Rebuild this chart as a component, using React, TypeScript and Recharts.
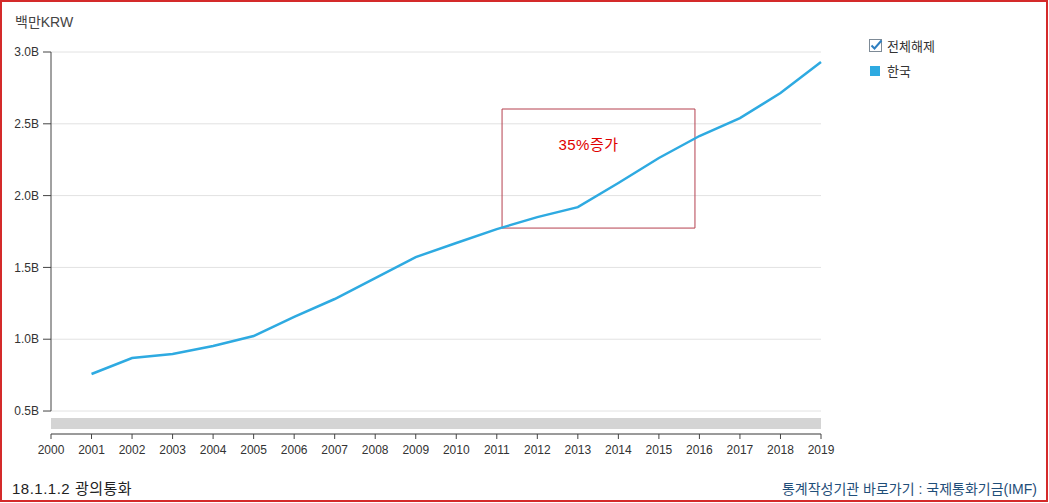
import React from 'react';
import { LineChart, Line, XAxis, YAxis, CartesianGrid, ReferenceArea, ReferenceLine } from 'recharts';

const years = [2001, 2002, 2003, 2004, 2005, 2006, 2007, 2008, 2009, 2010, 2011, 2012, 2013, 2014, 2015, 2016, 2017, 2018, 2019];
const korea = [0.758, 0.869, 0.897, 0.953, 1.022, 1.155, 1.28, 1.426, 1.572, 1.67, 1.767, 1.85, 1.92, 2.088, 2.262, 2.415, 2.54, 2.714, 2.93];
const xTicks = [2000, 2001, 2002, 2003, 2004, 2005, 2006, 2007, 2008, 2009, 2010, 2011, 2012, 2013, 2014, 2015, 2016, 2017, 2018, 2019];
const yTicks = [0.5, 1.0, 1.5, 2.0, 2.5, 3.0];
const seriesName = '한국';
const unitLabel = '백만KRW';
const annotationText = '35%증가';
const titleText = '18.1.1.2 광의통화';
const sourceText = '통계작성기관 바로가기 : 국제통화기금(IMF)';
const toggleText = '전체해제';

const data = years.map((y, i) => ({ year: y, value: korea[i] }));

const FONT = '"Liberation Sans", Arial, "Noto Sans CJK KR", sans-serif';
const LINE_COLOR = '#2eaae1';

const LegendBox = () => (
  <div style={{ position: 'absolute', left: 869, top: 38, fontFamily: FONT, fontSize: 13, color: '#333', lineHeight: '13px' }}>
    <div style={{ display: 'flex', alignItems: 'center', height: 16 }}>
      <svg width={14} height={14} style={{ marginRight: 4 }}>
        <rect x={0.5} y={0.5} width={12} height={12} fill="#fff" stroke="#7d8a96" />
        <path d="M2.5 6.5 L5.5 9.5 L12.5 1.5" fill="none" stroke="#2f7fc0" strokeWidth={2} />
      </svg>
      <span>{toggleText}</span>
    </div>
    <div style={{ display: 'flex', alignItems: 'center', height: 16, marginTop: 9 }}>
      <svg width={14} height={14} style={{ marginRight: 4 }}>
        <rect x={1} y={2} width={10} height={10} fill={LINE_COLOR} />
      </svg>
      <span>{seriesName}</span>
    </div>
  </div>
);

export default function App() {
  return (
    <div style={{ position: 'absolute', left: 0, top: 0, width: 1049, height: 503, background: '#fff', fontFamily: FONT }}>
      <div style={{ position: 'absolute', left: 0, top: 0, width: 1048, height: 502, boxSizing: 'border-box', border: '2px solid #d42a2a', pointerEvents: 'none', zIndex: 2 }} />
      <div style={{ position: 'absolute', left: 15, top: 11, fontSize: 14, color: '#444' }}>{unitLabel}</div>
      <LineChart width={1049} height={503} data={data} margin={{ top: 52, right: 228, bottom: 39, left: 0 }}>
        <CartesianGrid horizontal vertical={false} stroke="#e2e2e2" />
        <XAxis
          dataKey="year"
          type="number"
          domain={[2000, 2019]}
          ticks={xTicks}
          interval={0}
          height={30}
          axisLine={{ stroke: '#444' }}
          tickLine={{ stroke: '#444' }}
          tickSize={5}
          tickMargin={6}
          tick={{ fill: '#333', fontSize: 12, fontFamily: FONT }}
        />
        <YAxis
          type="number"
          domain={[0.34, 3.0]}
          ticks={yTicks}
          allowDataOverflow
          width={51}
          axisLine={false}
          tickLine={{ stroke: '#444' }}
          tickSize={8}
          tickMargin={4}
          tickFormatter={(v: number) => v.toFixed(1) + 'B'}
          tick={{ fill: '#333', fontSize: 12, fontFamily: FONT }}
        />
        <ReferenceLine segment={[{ x: 2000, y: 0.5 }, { x: 2000, y: 3.0 }]} stroke="#444" ifOverflow="visible" />
        <ReferenceArea x1={2000} x2={2019} y1={0.375} y2={0.451} fill="#d4d4d4" fillOpacity={1} stroke="none" />
        <ReferenceArea
          x1={2011.13}
          x2={2015.89}
          y1={1.774}
          y2={2.603}
          fill="none"
          fillOpacity={0}
          stroke="#b5414f"
          strokeWidth={1}
          label={(props: any) => {
            const vb = props.viewBox || {};
            return (
              <text x={vb.x + vb.width / 2 - 10} y={vb.y + 41} textAnchor="middle" fill="#e00000" fontSize={15} letterSpacing={0.5} fontFamily={FONT}>
                {annotationText}
              </text>
            );
          }}
        />
        <Line type="linear" dataKey="value" name={seriesName} stroke={LINE_COLOR} strokeWidth={2.5} dot={false} isAnimationActive={false} />
      </LineChart>
      <LegendBox />
      <div style={{ position: 'absolute', left: 12, top: 477, fontSize: 15, letterSpacing: 0.5, color: '#222' }}>{titleText}</div>
      <div style={{ position: 'absolute', right: 12, top: 478, fontSize: 14, color: '#1f4e79' }}>{sourceText}</div>
    </div>
  );
}
